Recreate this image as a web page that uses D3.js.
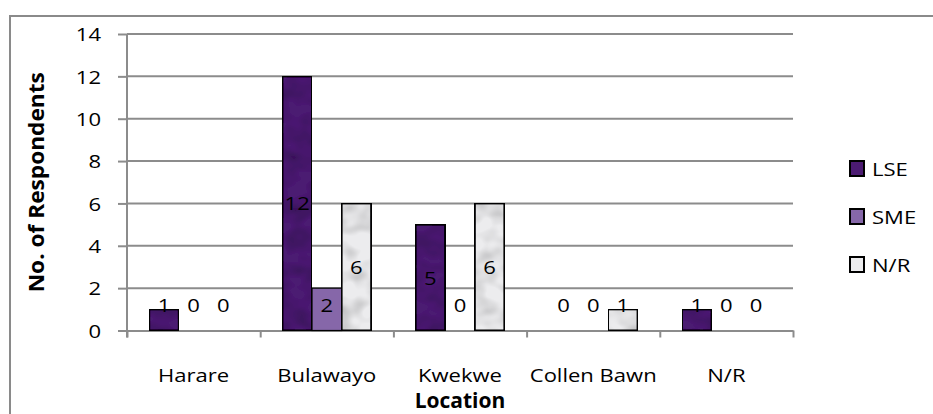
<!DOCTYPE html>
<html>
<head>
<meta charset="utf-8">
<script src="https://cdn.jsdelivr.net/npm/d3@7"></script>
<style>
  html, body { margin: 0; padding: 0; background: #fff; }
  svg { display: block; }
  text { font-family: "Open Sans", sans-serif; fill: #000; }
</style>
</head>
<body>
<div id="chart"></div>
<script>
// ---- data ----
const categories = ["Harare", "Bulawayo", "Kwekwe", "Collen Bawn", "N/R"];
const seriesNames = ["LSE", "SME", "N/R"];
const lseValues = [1, 12, 5, 0, 1];
const smeValues = [0, 2, 0, 0, 0];
const nrValues  = [0, 6, 6, 1, 0];
const yTickValues = [0, 2, 4, 6, 8, 10, 12, 14];
const yTitle = "No. of Respondents";
const xTitle = "Location";

(function () {
// ---- build table ----
const seriesValues = { "LSE": lseValues, "SME": smeValues, "N/R": nrValues };
const colors = { "LSE": "#4c1b72", "SME": "#8667a9", "N/R": "#ececee" };
const rows = [];
categories.forEach((c, i) => {
  seriesNames.forEach(s => rows.push({ cat: c, series: s, value: seriesValues[s][i] }));
});

const W = 933, H = 414;
const pL = 127, pR = 793, pT = 34, pB = 330.5;
const SX = 1.16; // horizontal stretch of text, as in the reference

const svg = d3.select("#chart").append("svg").attr("width", W).attr("height", H);

// soft marble-like texture
const defs = svg.append("defs");
const f = defs.append("filter").attr("id", "tex").attr("x", 0).attr("y", 0).attr("width", 1).attr("height", 1);
f.append("feTurbulence").attr("type", "fractalNoise").attr("baseFrequency", "0.045 0.06")
  .attr("numOctaves", 2).attr("seed", 11).attr("result", "noise");
f.append("feColorMatrix").attr("in", "noise").attr("type", "matrix")
  .attr("values", "0 0 0 0 0  0 0 0 0 0  0 0 0 0 0  0 0 0 -0.8 0.5").attr("result", "shade");
f.append("feComposite").attr("in", "shade").attr("in2", "SourceAlpha").attr("operator", "in").attr("result", "shadeIn");
const m = f.append("feMerge");
m.append("feMergeNode").attr("in", "SourceGraphic");
m.append("feMergeNode").attr("in", "shadeIn");

// outer border (extends past the window on right/bottom)
svg.append("rect").attr("x", 10).attr("y", 16).attr("width", 960).attr("height", 440)
  .attr("fill", "none").attr("stroke", "#8a8a8a").attr("stroke-width", 2);

const x = d3.scaleBand().domain(categories).range([pL, pR])
  .paddingInner(1 / 3).paddingOuter(1 / 6);
const xs = d3.scaleBand().domain(seriesNames).range([0, x.bandwidth()]);
const y = d3.scaleLinear().domain([0, 14]).range([pB, pT]);

function stretch(sel, fx, fy) {
  sel.attr("x", null).attr("y", null)
    .attr("transform", (d, i) => `translate(${fx(d, i)},${fy(d, i)}) scale(${SX},1)`);
}

// gridlines
svg.append("g").selectAll("line").data(yTickValues.filter(d => d > 0)).join("line")
  .attr("x1", pL).attr("x2", pR)
  .attr("y1", d => y(d)).attr("y2", d => y(d))
  .attr("stroke", "#8c8c8c").attr("stroke-width", 2);

// y axis
const yAxis = svg.append("g").attr("transform", `translate(${pL},0)`)
  .call(d3.axisLeft(y).tickValues(yTickValues).tickSize(9).tickPadding(17).tickSizeOuter(0));
yAxis.select(".domain").attr("stroke", "#8c8c8c").attr("stroke-width", 2)
  .attr("d", `M0,${pT}V${pB + 7}`);
yAxis.selectAll(".tick line").attr("stroke", "#8c8c8c").attr("stroke-width", 2);
yAxis.selectAll(".tick text").attr("font-size", 19).attr("font-family", "Open Sans")
  .attr("fill", "#000").attr("dy", null)
  .call(stretch, () => -26, () => 6.8);

// x axis (ticks between categories)
const edges = d3.scaleLinear().domain([0, categories.length]).range([pL, pR]);
const xAxis = svg.append("g").attr("transform", `translate(0,${pB})`)
  .call(d3.axisBottom(edges).ticks(categories.length).tickSize(7).tickFormat("").tickSizeOuter(0));
xAxis.select(".domain").attr("stroke", "#8c8c8c").attr("stroke-width", 2);
xAxis.selectAll(".tick line").attr("stroke", "#8c8c8c").attr("stroke-width", 2);

// category labels
svg.append("g").selectAll("text").data(categories).join("text")
  .attr("text-anchor", "middle").attr("font-size", 19).text(d => d)
  .call(stretch, d => x(d) + x.bandwidth() / 2, () => 381.5);

// bars
svg.append("g").selectAll("rect").data(rows.filter(r => r.value > 0)).join("rect")
  .attr("x", r => x(r.cat) + xs(r.series))
  .attr("y", r => y(r.value))
  .attr("width", xs.bandwidth())
  .attr("height", r => y(0) - y(r.value))
  .attr("fill", r => colors[r.series])
  .attr("filter", r => r.series === "SME" ? null : "url(#tex)")
  .attr("stroke", "#000").attr("stroke-width", r => r.series === "SME" ? 1.2 : 2);

// data labels
svg.append("g").selectAll("text").data(rows).join("text")
  .attr("text-anchor", "middle").attr("font-size", 19)
  .text(r => r.value)
  .call(stretch, r => x(r.cat) + xs(r.series) + xs.bandwidth() / 2,
        r => Math.min(y(r.value / 2), y(0) - 26) + 7);

// y title
svg.append("text")
  .attr("transform", `translate(44,${(pT + pB) / 2}) rotate(-90) scale(1.08,1)`)
  .attr("text-anchor", "middle").attr("font-size", 21).attr("font-weight", "bold")
  .text(yTitle);

// x title
svg.append("text")
  .attr("transform", `translate(${(pL + pR) / 2},408)`)
  .attr("text-anchor", "middle").attr("font-size", 21).attr("font-weight", "bold")
  .text(xTitle);

// legend
const legendY = [161, 209, 257];
const lg = svg.append("g").selectAll("g").data(seriesNames).join("g")
  .attr("transform", (d, i) => `translate(850,${legendY[i]})`);
lg.append("rect").attr("width", 14).attr("height", 15)
  .attr("fill", d => colors[d]).attr("stroke", "#000").attr("stroke-width", 2);
lg.append("text").attr("font-size", 19).text(d => d)
  .attr("transform", `translate(22,15) scale(${SX},1)`);
})();
</script>
</body>
</html>
